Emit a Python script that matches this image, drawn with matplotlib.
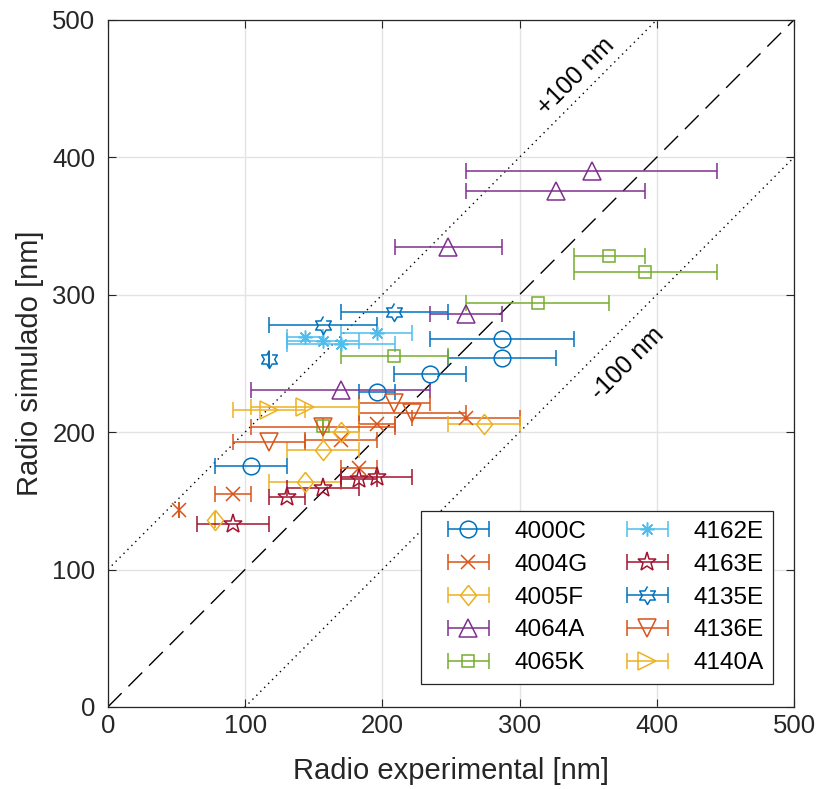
import numpy as np
import matplotlib.pyplot as plt
from matplotlib.container import ErrorbarContainer
from matplotlib.legend_handler import HandlerErrorbar

plt.rcParams['font.family'] = ['Liberation Sans', 'DejaVu Sans']

names = ['4000C', '4004G', '4005F', '4064A', '4065K',
         '4162E', '4163E', '4135E', '4136E', '4140A']

x_4000C = [104.4, 195.8, 234.9, 287.1, 287.1]
y_4000C = [175.4, 228.8, 242.2, 267.4, 253.9]
e_4000C = [26.1, 13.05, 26.1, 52.2, 39.15]

x_4004G = [52.2, 91.4, 182.7, 169.7, 195.8, 261.0]
y_4004G = [143.0, 154.8, 174.0, 194.5, 206.0, 210.0]
e_4004G = [0.0, 13.05, 13.05, 26.1, 13.05, 39.15]

x_4005F = [78.3, 143.6, 156.7, 169.7, 274.0]
y_4005F = [136.0, 163.3, 187.0, 200.4, 206.0]
e_4005F = [0.0, 26.1, 26.1, 13.05, 26.1]

x_4064A = [352.4, 326.3, 248.0, 261.0, 169.7]
y_4064A = [389.8, 375.2, 334.5, 285.9, 230.8]
e_4064A = [91.35, 65.25, 39.15, 26.1, 65.25]

x_4065K = [365.4, 391.5, 313.2, 208.8, 156.7]
y_4065K = [328.4, 316.3, 293.8, 255.0, 204.5]
e_4065K = [26.1, 52.2, 52.2, 39.15, 0.0]

x_4162E = [143.6, 156.7, 169.7, 195.8]
y_4162E = [269.0, 266.4, 264.4, 272.0]
e_4162E = [13.05, 26.1, 39.15, 26.1]

x_4163E = [91.4, 130.5, 156.7, 182.7, 195.8]
y_4163E = [133.0, 152.6, 159.0, 166.0, 167.6]
e_4163E = [26.1, 13.05, 26.1, 13.05, 26.1]

x_4135E = [117.5, 156.7, 208.8]
y_4135E = [253.0, 278.0, 287.6]
e_4135E = [0.0, 39.15, 39.15]

x_4136E = [117.5, 156.7, 208.8, 221.9]
y_4136E = [193.0, 204.0, 221.0, 213.7]
e_4136E = [26.1, 52.2, 26.1, 39.15]

x_4140A = [117.5, 143.6]
y_4140A = [215.7, 218.5]
e_4140A = [26.1, 39.15]

xs = [x_4000C, x_4004G, x_4005F, x_4064A, x_4065K, x_4162E, x_4163E, x_4135E, x_4136E, x_4140A]
ys = [y_4000C, y_4004G, y_4005F, y_4064A, y_4065K, y_4162E, y_4163E, y_4135E, y_4136E, y_4140A]
es = [e_4000C, e_4004G, e_4005F, e_4064A, e_4065K, e_4162E, e_4163E, e_4135E, e_4136E, e_4140A]

colors = ['#0072BD', '#D95319', '#EDB120', '#7E2F8E', '#77AC30',
          '#4DBEEE', '#A2142F', '#0072BD', '#D95319', '#EDB120']

# six-pointed star outline (hexagram)
ang = np.deg2rad(90 + 30 * np.arange(12))
rad = np.where(np.arange(12) % 2 == 0, 1.0, 1 / np.sqrt(3))
hexagram = list(zip(rad * np.cos(ang), rad * np.sin(ang)))
# wider diamond than matplotlib's 'd'
diamond = [(0, 1), (0.8, 0), (0, -1), (-0.8, 0), (0, 1)]

markers = ['o', 'x', diamond, '^', 's', (8, 2, 0), '*', hexagram, 'v', '>']
sizes = [12, 10, 14.5, 13.5, 9, 10, 14, 13, 13.5, 13.5]

fig = plt.figure(figsize=(8.17, 7.89), dpi=100)
ax = fig.add_axes([0.132, 0.104, 0.840, 0.871])

handles = []
for i in range(len(names)):
    ax.errorbar(xs[i], ys[i], xerr=es[i], fmt='none', ecolor=colors[i],
                elinewidth=1.1, capsize=5.5, capthick=1.1, zorder=3)
    ax.plot(xs[i], ys[i], linestyle='none', marker=markers[i], ms=sizes[i],
            mfc='none', mec=colors[i], mew=1.1, zorder=4)
    # off-axes copy used only for the legend entry
    handles.append(ax.errorbar([-100], [-100], xerr=[20], linestyle='none',
                               marker=markers[i], ms=sizes[i], mfc='none',
                               mec=colors[i], mew=1.1, ecolor=colors[i],
                               elinewidth=1.1, capsize=5.5, capthick=1.1))

line = np.array([0, 500])
ax.plot(line, line, color='k', lw=1.0, ls=(0, (14, 7)), zorder=2)
ax.plot(line, line + 100, color='k', lw=1.0, ls=(0, (1, 3)), zorder=2)
ax.plot(line, line - 100, color='k', lw=1.0, ls=(0, (1, 3)), zorder=2)

ax.text(341, 459, '+100 nm', rotation=45, fontsize=18, ha='center', va='center')
ax.text(379, 250, '-100 nm', rotation=45, fontsize=18, ha='center', va='center')

ax.set_xlim(0, 500)
ax.set_ylim(0, 500)
ax.set_xticks(np.arange(0, 501, 100))
ax.set_yticks(np.arange(0, 501, 100))
ax.tick_params(direction='in', top=True, right=True, labelsize=18.5,
               length=6, width=0.8, colors='#262626')
ax.tick_params(axis='x', pad=5)
ax.tick_params(axis='y', pad=9)
for sp in ax.spines.values():
    sp.set_color('#262626')
    sp.set_linewidth(0.9)
ax.grid(True, color='#e3e3e3', lw=1.0)
ax.set_axisbelow(True)

ax.set_xlabel('Radio experimental [nm]', fontsize=21, color='#262626', labelpad=14)
ax.set_ylabel('Radio simulado [nm]', fontsize=21, color='#262626', labelpad=6)

leg = ax.legend(handles, names, ncol=2, loc='lower right', fontsize=17.5,
                bbox_to_anchor=(0.9694, 0.0335), borderaxespad=0,
                handlelength=3.1, handletextpad=0.35, columnspacing=0.9,
                labelspacing=0.45, borderpad=0.39, fancybox=False,
                framealpha=1, edgecolor='#262626',
                handler_map={ErrorbarContainer: HandlerErrorbar(xerr_size=0.85)})
leg.get_frame().set_linewidth(0.9)

fig.savefig('out.png', dpi=100)
